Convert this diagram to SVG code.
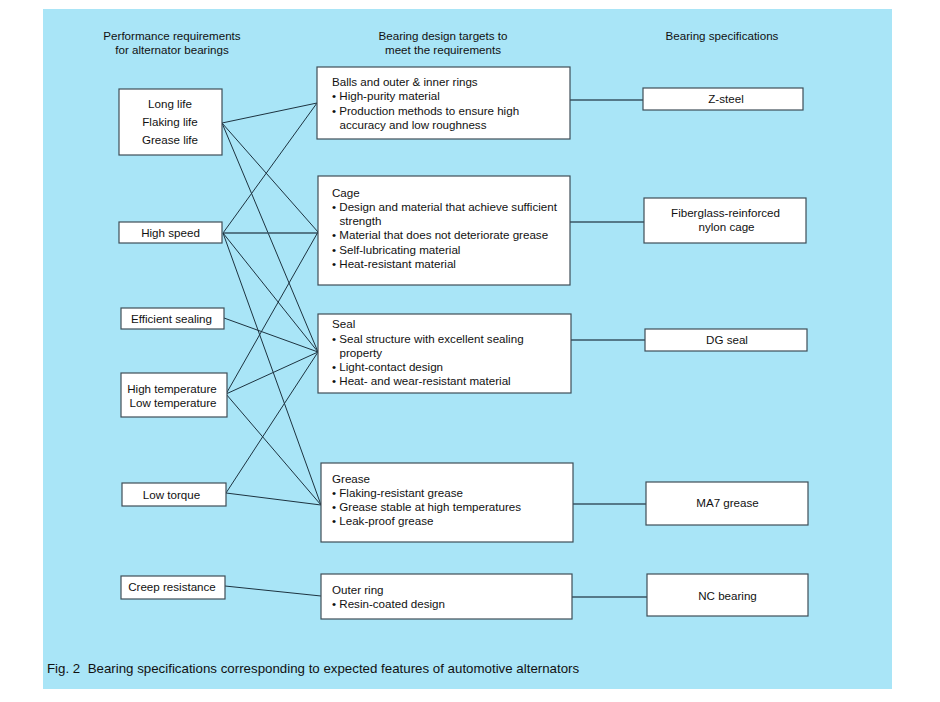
<svg xmlns="http://www.w3.org/2000/svg" width="940" height="702" viewBox="0 0 940 702">
<style>
text{font-family:"Liberation Sans",Arial,sans-serif;font-size:11.6px;fill:#111;}
.c{text-anchor:middle;}
.cap{font-size:13.3px;}
.box{fill:#fff;stroke:#3f4e57;stroke-width:1.2;}
.ln{stroke:#1d3340;stroke-width:1;fill:none;}
.hl{stroke:#3a5564;stroke-width:1.4;fill:none;}
</style>
<rect x="0" y="0" width="940" height="702" fill="#fff"/>
<rect x="43" y="9" width="849" height="680" fill="#a9e5f7"/>
<g id="headers">
<text class="c" x="172" y="40">Performance requirements</text>
<text class="c" x="172" y="54">for alternator bearings</text>
<text class="c" x="443" y="40">Bearing design targets to</text>
<text class="c" x="443" y="54">meet the requirements</text>
<text class="c" x="722" y="40">Bearing specifications</text>
</g>
<g id="connectors">
<line class="ln" x1="222" y1="123" x2="317" y2="103"/>
<line class="ln" x1="222" y1="123" x2="318" y2="232"/>
<line class="ln" x1="222" y1="123" x2="318" y2="352"/>
<line class="ln" x1="223" y1="233" x2="317" y2="103"/>
<line class="hl" x1="223" y1="233" x2="318" y2="233"/>
<line class="ln" x1="223" y1="233" x2="318" y2="352"/>
<line class="ln" x1="223" y1="233" x2="321" y2="505"/>
<line class="ln" x1="224" y1="318" x2="318" y2="352"/>
<line class="ln" x1="226" y1="394" x2="318" y2="232"/>
<line class="ln" x1="226" y1="394" x2="318" y2="352"/>
<line class="ln" x1="226" y1="394" x2="321" y2="505"/>
<line class="ln" x1="226" y1="493" x2="318" y2="352"/>
<line class="ln" x1="226" y1="493" x2="321" y2="505"/>
<line class="ln" x1="225" y1="586" x2="321" y2="596"/>
<line class="hl" x1="570" y1="100" x2="643" y2="100"/>
<line class="hl" x1="570" y1="222" x2="644" y2="222"/>
<line class="hl" x1="571" y1="340" x2="645" y2="340"/>
<line class="hl" x1="573" y1="504" x2="646" y2="504"/>
<line class="hl" x1="572" y1="597" x2="647" y2="597"/>
</g>
<g id="n-life">
<rect class="box" x="119" y="89" width="103" height="66"/>
<text class="c" x="170" y="108">Long life</text>
<text class="c" x="170" y="125.5">Flaking life</text>
<text class="c" x="170" y="143.5">Grease life</text>
</g>
<g id="n-speed">
<rect class="box" x="119" y="222" width="103" height="21"/>
<text class="c" x="170.5" y="237">High speed</text>
</g>
<g id="n-sealing">
<rect class="box" x="121" y="308" width="103" height="21"/>
<text class="c" x="171.5" y="322.5">Efficient sealing</text>
</g>
<g id="n-temp">
<rect class="box" x="121" y="373" width="106" height="44"/>
<text class="c" x="172" y="393">High temperature</text>
<text class="c" x="173" y="407">Low temperature</text>
</g>
<g id="n-torque">
<rect class="box" x="122" y="483" width="104" height="23"/>
<text class="c" x="171.5" y="499">Low torque</text>
</g>
<g id="n-creep">
<rect class="box" x="121" y="576" width="104" height="23"/>
<text class="c" x="172" y="591">Creep resistance</text>
</g>
<g id="t-balls">
<rect class="box" x="317" y="67" width="253" height="72"/>
<text x="332" y="86">Balls and outer &amp; inner rings</text>
<text x="332" y="100">• High-purity material</text>
<text x="332" y="114.5">• Production methods to ensure high</text>
<text x="339.5" y="128.5">accuracy and low roughness</text>
</g>
<g id="t-cage">
<rect class="box" x="318" y="176" width="252" height="109"/>
<text x="332" y="197">Cage</text>
<text x="332" y="210.5">• Design and material that achieve sufficient</text>
<text x="339.5" y="225">strength</text>
<text x="332" y="238.5">• Material that does not deteriorate grease</text>
<text x="332" y="253.5">• Self-lubricating material</text>
<text x="332" y="267.5">• Heat-resistant material</text>
</g>
<g id="t-seal">
<rect class="box" x="318" y="314" width="253" height="79"/>
<text x="332" y="327.5">Seal</text>
<text x="332" y="342.5">• Seal structure with excellent sealing</text>
<text x="339.5" y="356.5">property</text>
<text x="332" y="371">• Light-contact design</text>
<text x="332" y="385">• Heat- and wear-resistant material</text>
</g>
<g id="t-grease">
<rect class="box" x="321" y="463" width="252" height="79"/>
<text x="332" y="483">Grease</text>
<text x="332" y="497">• Flaking-resistant grease</text>
<text x="332" y="511">• Grease stable at high temperatures</text>
<text x="332" y="525">• Leak-proof grease</text>
</g>
<g id="t-outer">
<rect class="box" x="321" y="574" width="251" height="45"/>
<text x="332" y="593.5">Outer ring</text>
<text x="332" y="608">• Resin-coated design</text>
</g>
<g id="s-zsteel">
<rect class="box" x="643" y="88" width="160" height="22"/>
<text class="c" x="726" y="103">Z-steel</text>
</g>
<g id="s-cage">
<rect class="box" x="644" y="198" width="162" height="45"/>
<text class="c" x="725.5" y="216.5">Fiberglass-reinforced</text>
<text class="c" x="726.5" y="230.5">nylon cage</text>
</g>
<g id="s-dg">
<rect class="box" x="645" y="329" width="162" height="22"/>
<text class="c" x="727" y="344">DG seal</text>
</g>
<g id="s-ma7">
<rect class="box" x="646" y="482" width="162" height="43"/>
<text class="c" x="727.5" y="507">MA7 grease</text>
</g>
<g id="s-nc">
<rect class="box" x="647" y="574" width="161" height="42"/>
<text class="c" x="727.5" y="599.5">NC bearing</text>
</g>
<text class="cap" x="47" y="673" xml:space="preserve">Fig. 2  Bearing specifications corresponding to expected features of automotive alternators</text>
</svg>
